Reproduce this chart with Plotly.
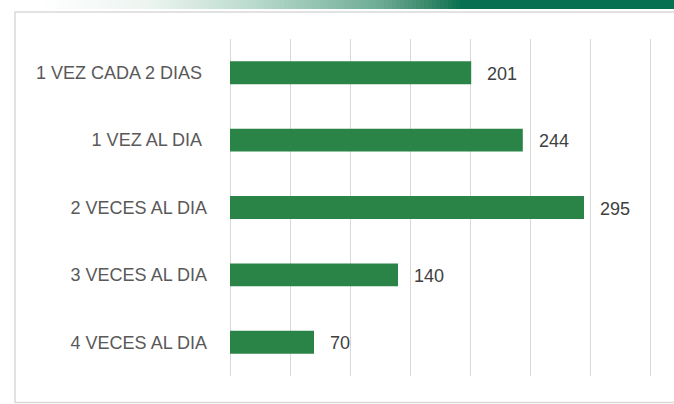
import plotly.graph_objects as go

categories = ["1 VEZ CADA 2 DIAS\u00a0", "1 VEZ AL DIA\u00a0", "2 VECES AL DIA", "3 VECES AL DIA", "4 VECES AL DIA"]
values = [201, 244, 295, 140, 70]
x_max = 350
x_step = 50

W, H = 674, 404
BAR = "#2A8447"
GRID = "#D9D9D9"
FONT = "Liberation Sans, Arial, sans-serif"

fig = go.Figure()
fig.add_trace(go.Bar(
    x=values, y=categories, orientation="h",
    marker=dict(color=BAR, line=dict(width=0)),
    width=0.34, hoverinfo="skip",
))

for v, c in zip(values, categories):
    fig.add_annotation(x=v, y=c, text=str(v), showarrow=False,
                       xanchor="left", xshift=14, yshift=-1,
                       font=dict(family=FONT, size=18, color="#404040"))

def px_x(p):
    return p / W

def px_y(p):
    return 1 - p / H

shapes = []
# chart border
shapes.append(dict(type="rect", xref="paper", yref="paper",
                   x0=px_x(15), x1=px_x(700), y0=px_y(402.5), y1=px_y(12),
                   line=dict(color="#D9D9D9", width=1.5), fillcolor="rgba(0,0,0,0)", layer="below"))

# top gradient strip
stops = [(0, (255, 255, 255)), (40, (255, 255, 255)), (150, (236, 244, 240)), (250, (188, 219, 207)),
         (330, (140, 191, 172)), (380, (110, 171, 149)), (430, (55, 135, 105)), (462, (8, 112, 80)),
         (674, (7, 112, 80))]

def col_at(x):
    for (xa, ca), (xb, cb) in zip(stops[:-1], stops[1:]):
        if xa <= x <= xb:
            t = 0 if xb == xa else (x - xa) / (xb - xa)
            return tuple(round(ca[i] + (cb[i] - ca[i]) * t) for i in range(3))
    return stops[-1][1]

step = 4
for x0 in range(0, W, step):
    c = col_at(x0 + step / 2)
    shapes.append(dict(type="rect", xref="paper", yref="paper",
                       x0=px_x(x0), x1=px_x(min(x0 + step + 0.5, W)), y0=px_y(9), y1=px_y(0),
                       line=dict(width=0), fillcolor="rgb(%d,%d,%d)" % c, layer="below"))

fig.update_layout(
    width=W, height=H,
    margin=dict(l=0, r=0, t=0, b=0),
    paper_bgcolor="white", plot_bgcolor="white",
    showlegend=False,
    shapes=shapes,
    bargap=0.66,
    xaxis=dict(domain=[230 / W, 653.6 / W], range=[0, x_max + 3], dtick=x_step, tick0=0,
               showgrid=True, gridcolor=GRID, gridwidth=1, showticklabels=False,
               zeroline=True, zerolinecolor=GRID, zerolinewidth=1,
               showline=False, ticks="", fixedrange=True),
    yaxis=dict(domain=[1 - 376 / H, 1 - 39 / H], autorange="reversed",
               showgrid=False, zeroline=False, showline=False, ticks="",
               ticklabelstandoff=22, automargin=False,
               tickfont=dict(family=FONT, size=18, color="#595959"), fixedrange=True),
)

fig.write_html("out.html", config={"displayModeBar": False},
               post_script="document.body.style.margin='0';document.body.style.overflow='hidden';")
